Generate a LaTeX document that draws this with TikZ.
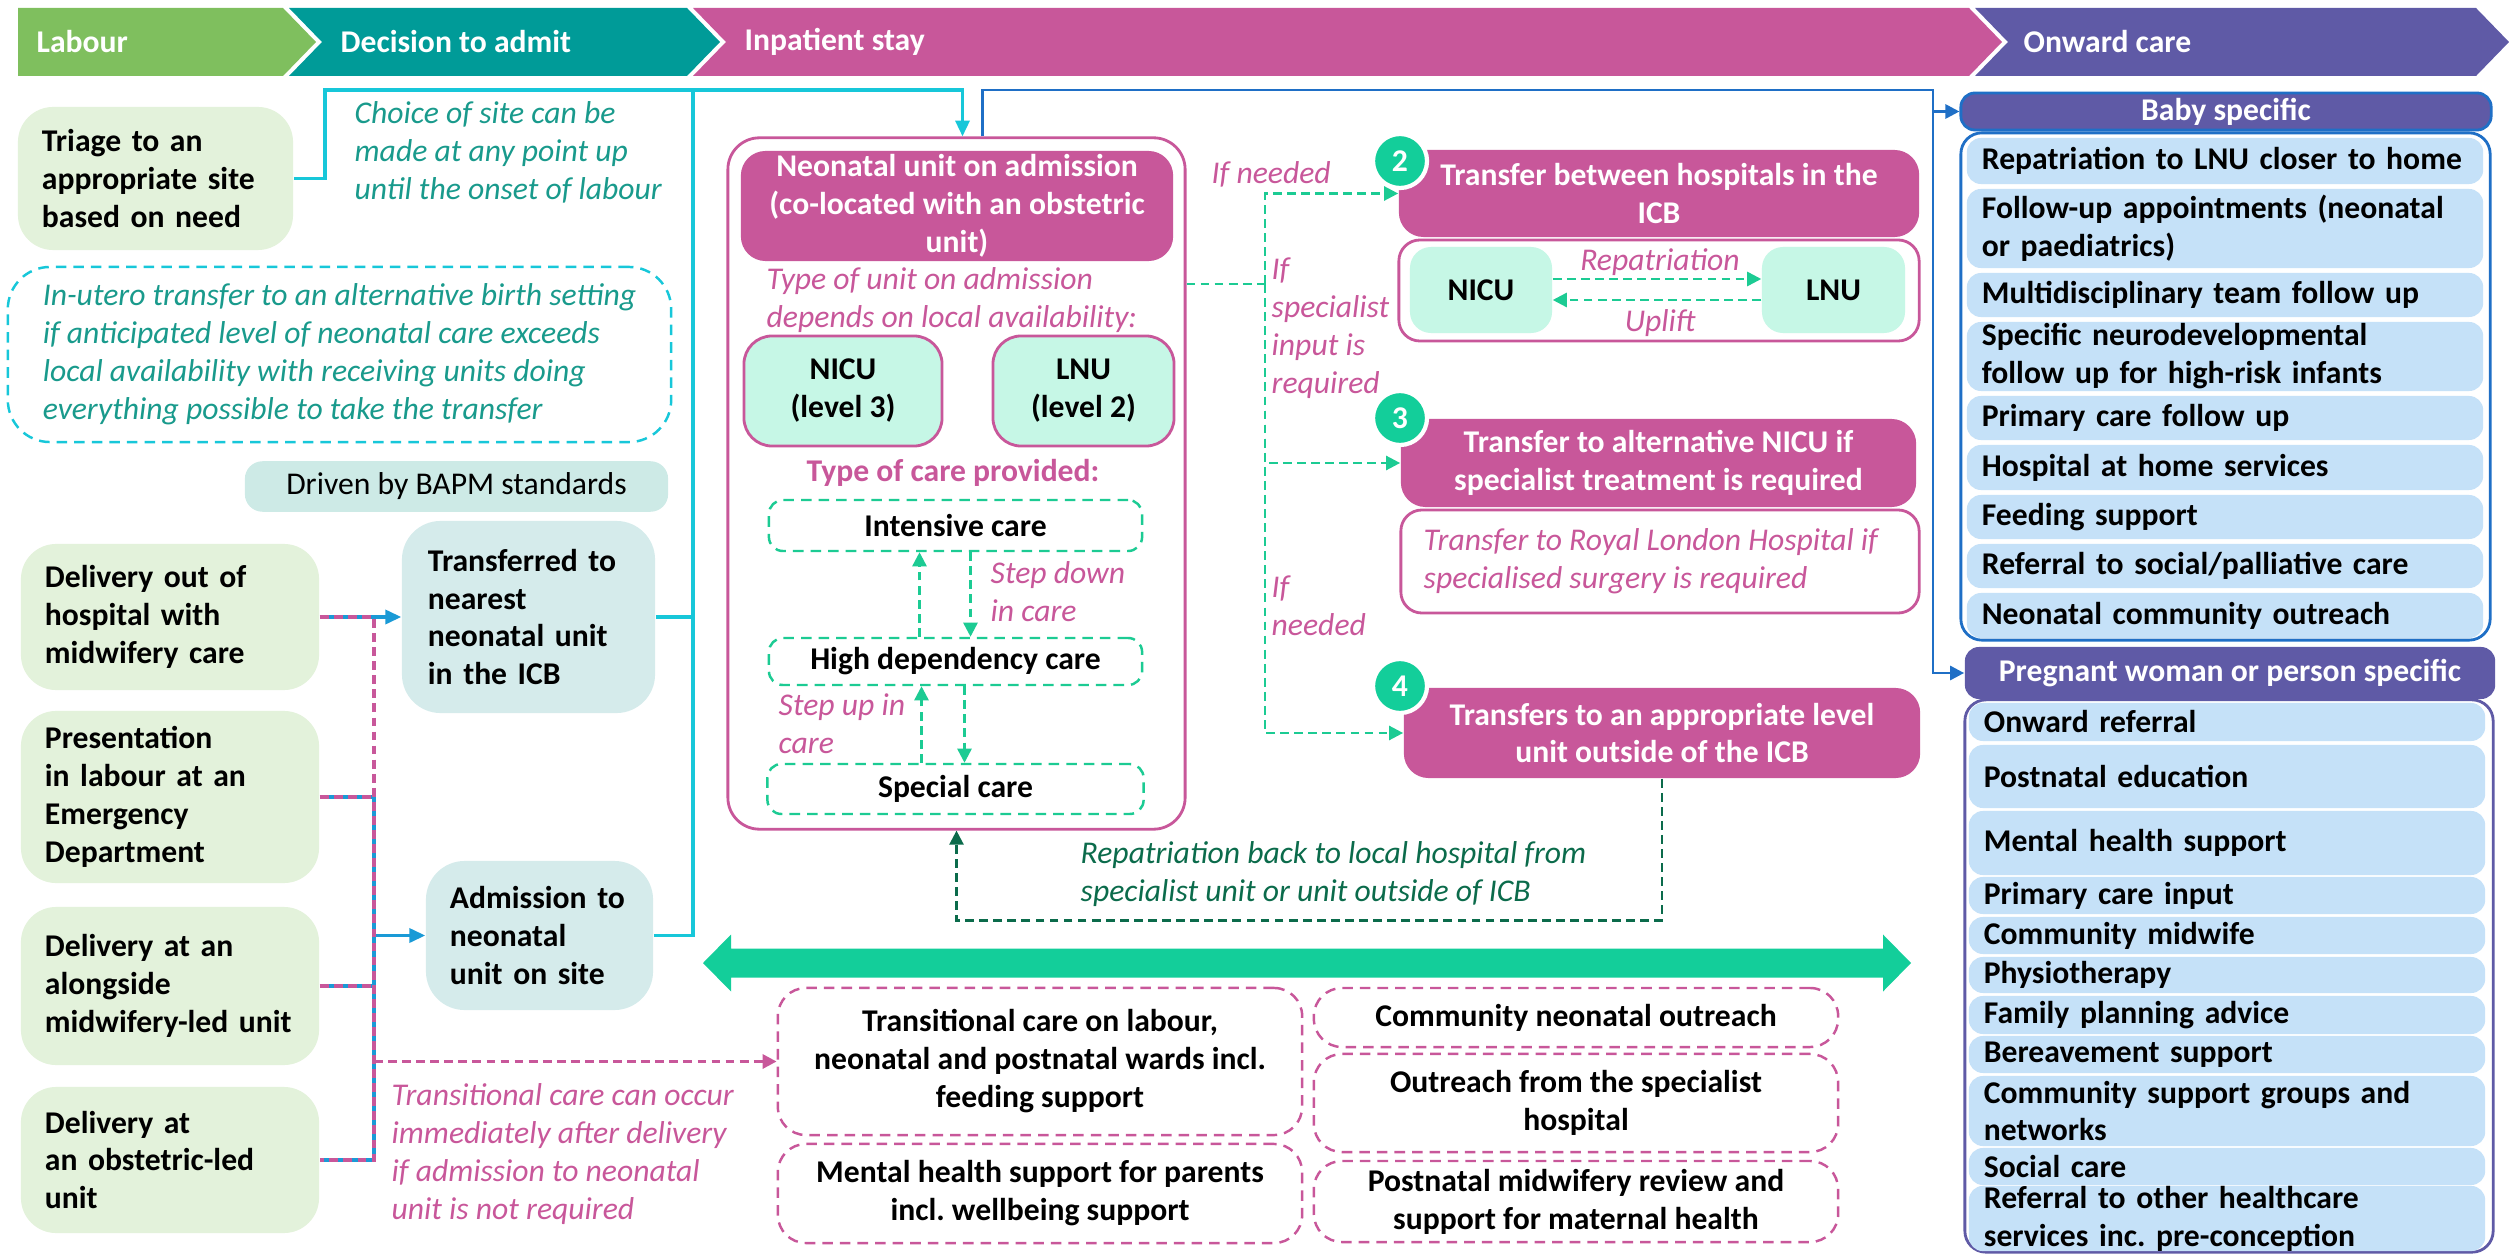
\documentclass[tikz,border=0pt]{standalone}
\usepackage{fontspec}
\setmainfont{Carlito}
\usetikzlibrary{arrows.meta,positioning,calc}
\definecolor{labourgreen}{RGB}{127,191,94}
\definecolor{admitteal}{RGB}{0,155,152}
\definecolor{staypink}{RGB}{200,87,154}
\definecolor{onwardpurple}{RGB}{95,90,166}
\definecolor{palegreen}{RGB}{227,242,219}
\definecolor{paleteal}{RGB}{213,235,235}
\definecolor{bapmteal}{RGB}{205,234,230}
\definecolor{linecyan}{RGB}{23,199,217}
\definecolor{noteteal}{RGB}{25,154,140}
\definecolor{mintfill}{RGB}{198,247,230}
\definecolor{stepgreen}{RGB}{28,203,147}
\definecolor{darkgreen}{RGB}{11,107,75}
\definecolor{bandgreen}{RGB}{19,206,154}
\definecolor{linkblue}{RGB}{31,111,198}
\definecolor{arrowblue}{RGB}{26,154,214}
\definecolor{listblue}{RGB}{197,225,248}
\newcommand{\diagfont}{\fontsize{9}{10.8}\selectfont}
\tikzset{
    % Stage banner text
    stagetext/.style={anchor=west, text=white, font=\diagfont\bfseries, inner sep=0pt},
    % Labour boxes
    labourbox/.style={
        rectangle, fill=palegreen, rounded corners=10pt,
        align=left, font=\diagfont\bfseries, inner xsep=0.24cm, inner ysep=0pt
    },
    % Admission route boxes
    routebox/.style={
        rectangle, fill=paleteal, rounded corners=11pt,
        align=left, font=\diagfont\bfseries, inner xsep=0.26cm, inner ysep=0pt
    },
    % Free notes
    tealnote/.style={anchor=west, align=left, text=noteteal, font=\diagfont\itshape, inner sep=0pt},
    pinknote/.style={anchor=west, align=left, text=staypink, font=\diagfont\itshape, inner sep=0pt},
    greennote/.style={anchor=west, align=left, text=darkgreen, font=\diagfont\itshape, inner sep=0pt},
    % Unit frames
    unitframe/.style={rectangle, draw=staypink, line width=0.8pt, fill=white, rounded corners=9pt},
    unithead/.style={
        rectangle, fill=staypink, rounded corners=7pt, text=white,
        align=center, font=\diagfont\bfseries, inner sep=0pt
    },
    unitlevel/.style={
        rectangle, draw=staypink, line width=0.8pt, fill=mintfill,
        rounded corners=8pt, align=center, font=\diagfont\bfseries, inner sep=0pt
    },
    carelevel/.style={
        rectangle, draw=stepgreen, line width=0.7pt, dash pattern=on 3pt off 2pt,
        rounded corners=4pt, font=\diagfont\bfseries, inner sep=0pt
    },
    mintunit/.style={rectangle, fill=mintfill, rounded corners=6pt, font=\diagfont\bfseries, inner sep=0pt},
    numbadge/.style={
        circle, fill=bandgreen, draw=white, line width=1.2pt,
        minimum size=0.54cm, inner sep=0pt, text=white, font=\diagfont\bfseries
    },
    supportbox/.style={
        rectangle, draw=staypink, line width=0.7pt, dash pattern=on 3pt off 2pt,
        rounded corners=8pt, align=center, font=\diagfont\bfseries, inner sep=0pt
    },
    % Onward care lists
    listframe/.style={rectangle, draw=linkblue, line width=0.8pt, rounded corners=6pt, fill=white},
    listhead/.style={rectangle, fill=onwardpurple, rounded corners=4pt, text=white, font=\diagfont\bfseries, inner sep=0pt},
    listitem/.style={
        rectangle, fill=listblue, rounded corners=4pt, align=left,
        text width=4.86cm, inner xsep=0.15cm, inner ysep=0pt, font=\diagfont\bfseries
    },
    % Connectors
    cyanlink/.style={draw=linecyan, line width=0.9pt},
    bluelink/.style={draw=linkblue, line width=0.8pt},
    feedlink/.style={draw=arrowblue, line width=0.9pt},
    pinkdash/.style={draw=staypink, line width=0.9pt, dash pattern=on 2.5pt off 1.5pt},
    stepline/.style={draw=stepgreen, line width=0.7pt, dash pattern=on 2.5pt off 1.5pt},
    repatline/.style={draw=darkgreen, line width=0.7pt, dash pattern=on 2.5pt off 1.5pt},
    headtip/.style={-{Triangle[length=4pt, width=4pt]}},
    bigtip/.style={-{Triangle[length=4.5pt, width=4pt]}}
}
\begin{document}
\frenchspacing
\begin{tikzpicture}[x=0.01cm, y=-0.01cm, font=\diagfont]
\useasboundingbox (0,0) rectangle (2509,1255);

% Stage banner
\fill[labourgreen] (18,8) -- (283,8) -- (316,42) -- (283,76) -- (18,76) -- cycle;
\fill[admitteal] (289,8) -- (687,8) -- (720,42) -- (687,76) -- (289,76) -- (322,42) -- cycle;
\fill[staypink] (693,8) -- (1969,8) -- (2002,42) -- (1969,76) -- (693,76) -- (726,42) -- cycle;
\fill[onwardpurple] (1975,8) -- (2476,8) -- (2509,42) -- (2476,76) -- (1975,76) -- (2008,42) -- cycle;
\node[stagetext] (labour) at (36,42) {Labour};
\node[stagetext] (decision) at (340,42) {Decision to admit};
\node[stagetext] (inpatient) at (744,42) {Inpatient stay};
\node[stagetext] (onward) at (2023,42) {Onward care};

% Labour column
\node[labourbox, text width=2.27cm, minimum height=1.43cm] (triage) at (155.5,178.5) {Triage to an\\appropriate site\\based on need};
\node[tealnote] (choice) at (354,152) {Choice of site can be\\made at any point up\\until the onset of labour};
\node[rectangle, draw=linecyan, line width=0.7pt, dash pattern=on 3pt off 2pt, rounded corners=12pt,
      minimum width=6.63cm, minimum height=1.75cm, align=left, text=noteteal, font=\diagfont\itshape]
      (inutero) at (339.5,354.5) {In-utero transfer to an alternative birth setting\\if anticipated level of neonatal care exceeds\\local availability with receiving units doing\\everything possible to take the transfer};
\node[rectangle, fill=bapmteal, rounded corners=5pt, minimum width=4.23cm, minimum height=0.47cm] (bapm) at (456.5,486.5) {Driven by BAPM standards};

\node[labourbox, text width=2.5cm, minimum height=1.46cm] (outside) at (170,617) {Delivery out of\\hospital with\\midwifery care};
\node[labourbox, text width=2.5cm, minimum height=1.72cm] (emergency) at (170,797) {Presentation\\in labour at an\\Emergency\\Department};
\node[labourbox, text width=2.5cm, minimum height=1.58cm] (alongside) at (170,986) {Delivery at an\\alongside\\midwifery-led unit};
\node[labourbox, text width=2.5cm, minimum height=1.46cm] (obstetric) at (170,1160) {Delivery at\\an obstetric-led\\unit};

% Decision to admit
\node[routebox, text width=2.01cm, minimum height=1.92cm] (transfer) at (528.5,617) {Transferred to\\nearest\\neonatal unit\\in the ICB};
\node[routebox, inner xsep=0.24cm, text width=1.79cm, minimum height=1.49cm] (admission) at (539.5,935.5) {Admission to\\neonatal\\unit on site};
\node[pinknote] (transnote) at (391,1154) {Transitional care can occur\\immediately after delivery\\if admission to neonatal\\unit is not required};

% Neonatal unit on admission
\node[unitframe, minimum width=4.57cm, minimum height=6.91cm] (nnu) at (956.5,483.5) {};
\node[unithead, minimum width=4.32cm, minimum height=1.1cm] (nnuhead) at (957,206) {Neonatal unit on admission\\(co-located with an obstetric\\unit)};
\node[pinknote] (unittype) at (766,300) {Type of unit on admission\\depends on local availability:};
\node[unitlevel, minimum width=1.98cm, minimum height=1.1cm] (nicu) at (843,391) {NICU\\(level 3)};
\node[unitlevel, minimum width=1.81cm, minimum height=1.1cm] (lnu) at (1083.5,391) {LNU\\(level 2)};
\node[text=staypink, font=\diagfont\bfseries, inner sep=0pt] (caretype) at (953,473) {Type of care provided:};
\node[carelevel, minimum width=3.73cm, minimum height=0.51cm] (intensive) at (955.5,525.5) {Intensive care};
\node[carelevel, minimum width=3.73cm, minimum height=0.47cm] (highdep) at (955.5,661.5) {High dependency care};
\node[carelevel, minimum width=3.76cm, minimum height=0.5cm] (special) at (955.5,789) {Special care};
\node[pinknote] (stepdown) at (990,592) {Step down\\in care};
\node[pinknote] (stepup) at (778,724) {Step up in\\care};
\draw[stepline, headtip] ($(highdep.north)+(-36,0)$) -- ($(intensive.south)+(-36,0)$);
\draw[stepline, headtip] ($(intensive.south)+(15,0)$) -- ($(highdep.north)+(15,0)$);
\draw[stepline, headtip] ($(special.north)+(-34,0)$) -- ($(highdep.south)+(-34,0)$);
\draw[stepline, headtip] ($(highdep.south)+(9,0)$) -- ($(special.north)+(9,0)$);

% Transfers
\node[unithead, minimum width=5.2cm, minimum height=0.87cm] (xfer2) at (1659,193.5) {Transfer between hospitals in the\\ICB};
\node[unitframe, rounded corners=6pt, minimum width=5.2cm, minimum height=1.01cm] (xfer2sub) at (1659,290.5) {};
\node[mintunit, minimum width=1.42cm, minimum height=0.86cm] (nicutwo) at (1481,290) {NICU};
\node[mintunit, minimum width=1.43cm, minimum height=0.86cm] (lnutwo) at (1833.5,290) {LNU};
\draw[stepline, headtip] ($(nicutwo.east)+(0,-11)$) -- ($(lnutwo.west)+(0,-11)$);
\draw[stepline, headtip] ($(lnutwo.west)+(0,10)$) -- ($(nicutwo.east)+(0,10)$);
\node[text=staypink, font=\diagfont\itshape, inner sep=0pt] (repatlabel) at (1660,262) {Repatriation};
\node[text=staypink, font=\diagfont\itshape, inner sep=0pt] (upliftlabel) at (1660,323) {Uplift};

\node[unithead, minimum width=5.15cm, minimum height=0.88cm] (xfer3) at (1658.5,463) {Transfer to alternative NICU if\\specialist treatment is required};
\node[unitframe, rounded corners=6pt, minimum width=5.18cm, minimum height=1.03cm] (xfer3sub) at (1660,561.5) {};
\node[pinknote] (royallondon) at (1423,561) {Transfer to Royal London Hospital if\\specialised surgery is required};

\node[unithead, minimum width=5.16cm, minimum height=0.9cm] (xfer4) at (1662,733) {Transfers to an appropriate level\\unit outside of the ICB};

\node[numbadge] (badge2) at (1400,161) {2};
\node[numbadge] (badge3) at (1400,418) {3};
\node[numbadge] (badge4) at (1400,686) {4};

\coordinate (split) at (1265,284);
\draw[stepline] (split -| nnu.east) -- (split);
\draw[stepline, headtip] (split) |- (xfer2.west);
\draw[stepline, headtip] (split) |- (xfer3.west);
\draw[stepline, headtip] (split) |- (xfer4.west);
\node[pinknote] (ifneeded) at (1211,174) {If needed};
\node[pinknote] (ifspecialist) at (1271,328.5) {If\\specialist\\input is\\required};
\node[pinknote] (ifneededtwo) at (1271,606) {If\\needed};

% Repatriation back
\draw[repatline, headtip] (xfer4.south) |- ($(nnu.south)+(0,90)$) -- (nnu.south);
\node[greennote] (repatback) at (1080,874) {Repatriation back to local hospital from\\specialist unit or unit outside of ICB};

% Band between inpatient and community care
\fill[bandgreen] (703,963) -- (731,934.5) -- (731,948.5) -- (1883,948.5) -- (1883,934.5) -- (1911,963)
    -- (1883,991.5) -- (1883,977.5) -- (731,977.5) -- (731,991.5) -- cycle;

\node[supportbox, minimum width=5.24cm, minimum height=1.47cm] (tcare) at (1040,1061.5) {Transitional care on labour,\\neonatal and postnatal wards incl.\\feeding support};
\node[supportbox, minimum width=5.24cm, minimum height=0.99cm] (parents) at (1040,1193.5) {Mental health support for parents\\incl. wellbeing support};
\node[supportbox, minimum width=5.24cm, minimum height=0.59cm] (community) at (1576,1017.5) {Community neonatal outreach};
\node[supportbox, minimum width=5.24cm, minimum height=0.98cm] (outreach) at (1576,1103) {Outreach from the specialist\\hospital};
\node[supportbox, minimum width=5.24cm, minimum height=0.81cm] (midwifery) at (1576,1201.5) {Postnatal midwifery review and\\support for maternal health};

% Onward care: baby
\node[listframe, minimum width=5.29cm, minimum height=5.07cm] (babylist) at (2225.5,386.5) {};
\node[listhead, draw=linkblue, line width=0.8pt, minimum width=5.3cm, minimum height=0.37cm] (babyhead) at (2226,111.5) {Baby specific};
\node[listitem, minimum height=0.46cm] (baby1) at (2225,161) {Repatriation to LNU closer to home};
\node[listitem, minimum height=0.79cm] (baby2) at (2225,228.5) {Follow-up appointments (neonatal\\or paediatrics)};
\node[listitem, minimum height=0.44cm] (baby3) at (2225,295) {Multidisciplinary team follow up};
\node[listitem, minimum height=0.69cm] (baby4) at (2225,356.5) {Specific neurodevelopmental\\follow up for high-risk infants};
\node[listitem, minimum height=0.44cm] (baby5) at (2225,418) {Primary care follow up};
\node[listitem, minimum height=0.45cm] (baby6) at (2225,467.5) {Hospital at home services};
\node[listitem, minimum height=0.44cm] (baby7) at (2225,517) {Feeding support};
\node[listitem, minimum height=0.44cm] (baby8) at (2225,566) {Referral to social/palliative care};
\node[listitem, minimum height=0.45cm] (baby9) at (2225,615.5) {Neonatal community outreach};

% Onward care: pregnant woman or person
\node[listframe, draw=onwardpurple, minimum width=5.28cm, minimum height=5.52cm] (pregnantlist) at (2229,976) {};
\node[listhead, minimum width=5.3cm, minimum height=0.52cm] (pregnanthead) at (2230,673) {Pregnant woman or person specific};
\node[listitem, minimum height=0.38cm] (preg1) at (2227,722) {Onward referral};
\node[listitem, minimum height=0.63cm] (preg2) at (2227,776.5) {Postnatal education};
\node[listitem, minimum height=0.64cm] (preg3) at (2227,843) {Mental health support};
\node[listitem, minimum height=0.37cm] (preg4) at (2227,895.5) {Primary care input};
\node[listitem, minimum height=0.37cm] (preg5) at (2227,935.5) {Community midwife};
\node[listitem, minimum height=0.36cm] (preg6) at (2227,975) {Physiotherapy};
\node[listitem, minimum height=0.38cm] (preg7) at (2227,1015) {Family planning advice};
\node[listitem, minimum height=0.37cm] (preg8) at (2227,1054.5) {Bereavement support};
\node[listitem, minimum height=0.7cm] (preg9) at (2227,1111) {Community support groups and\\networks};
\node[listitem, minimum height=0.37cm] (preg10) at (2227,1166.5) {Social care};
\node[listitem, minimum height=0.61cm] (preg11) at (2227,1218.5) {Referral to other healthcare\\services inc. pre-conception};

% Site choice links
\coordinate (cyanbend) at (325,90);
\coordinate (cyantrunk) at (693,90);
\draw[cyanlink, bigtip] (triage.east) -| (cyanbend) -| ($(nnu.north)+(6,0)$);
\draw[cyanlink] (transfer.east) -| (cyantrunk);
\draw[cyanlink] (admission.east) -| (cyantrunk);

% Onward care links
\coordinate (bluetop) at (1933,90);
\draw[bluelink, headtip] ($(nnu.north)+(26,0)$) |- (bluetop) |- (pregnanthead.west);
\draw[bluelink, headtip] (bluetop |- babyhead.west) -- (babyhead.west);

% Labour to admission links
\coordinate (spine) at (374,0);
\draw[feedlink, bigtip] (outside.east) -- (transfer.west);
\draw[feedlink] (emergency.east) -- (emergency.east -| spine) -- (obstetric.east -| spine) -- (obstetric.east);
\draw[feedlink] (alongside.east) -- (alongside.east -| spine);
\draw[feedlink, bigtip] (admission.west -| spine) -- (admission.west);
\draw[pinkdash] (outside.east) -- (outside.east -| spine) -- (obstetric.east -| spine) -- (obstetric.east);
\draw[pinkdash] (emergency.east) -- (emergency.east -| spine);
\draw[pinkdash] (alongside.east) -- (alongside.east -| spine);
\draw[pinkdash, headtip] (tcare.west -| spine) -- (tcare.west);

\end{tikzpicture}
\end{document}
